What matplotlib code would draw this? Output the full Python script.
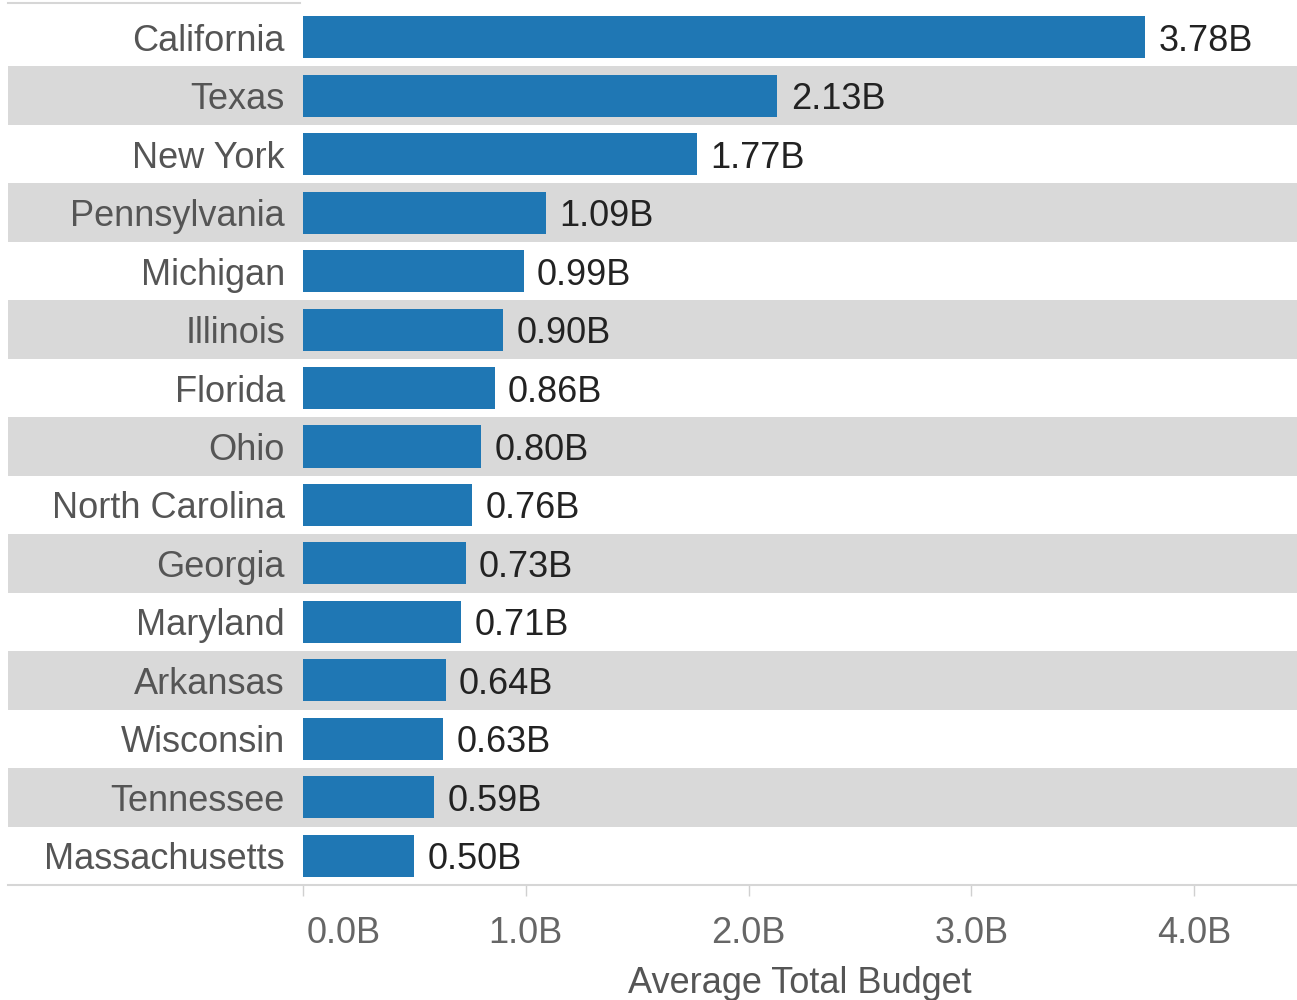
import matplotlib
matplotlib.use("Agg")
import matplotlib.pyplot as plt
from matplotlib.patches import Rectangle
from matplotlib.lines import Line2D
from matplotlib.transforms import ScaledTranslation

states = ["California", "Texas", "New York", "Pennsylvania", "Michigan", "Illinois",
          "Florida", "Ohio", "North Carolina", "Georgia", "Maryland", "Arkansas",
          "Wisconsin", "Tennessee", "Massachusetts"]
budget_b = [3.78, 2.13, 1.77, 1.09, 0.99, 0.90, 0.86, 0.80, 0.76, 0.73, 0.71,
            0.64, 0.63, 0.59, 0.50]
xticks = [0, 1, 2, 3, 4]
xtick_labels = ["0.0B", "1.0B", "2.0B", "3.0B", "4.0B"]
xlabel = "Average Total Budget"

plt.rcParams['font.family'] = ['Liberation Sans', 'DejaVu Sans']

W, H = 1297, 1000
fig = plt.figure(figsize=(W / 100, H / 100), dpi=100)
left = 303 / W
bottom = 1 - 885 / H
top = 1 - 8 / H
ax = fig.add_axes([left, bottom, 1 - left, top - bottom])

n = len(states)
ypos = list(range(n))

band_x0 = (8 - 303) / 994
for i in ypos:
    if i % 2 == 1:
        ax.add_patch(Rectangle((band_x0, i - 0.5), 1 - band_x0, 1.0,
                               transform=ax.get_yaxis_transform(),
                               facecolor='#d9d9d9', edgecolor='none',
                               clip_on=False, zorder=0))

ax.barh(ypos, budget_b, height=0.72, color='#1f77b4', zorder=2)
for i, v in zip(ypos, budget_b):
    ax.annotate(f"{v:.2f}B", xy=(v, i), xytext=(9.5, 0), textcoords='offset points',
                va='center_baseline', ha='left', fontsize=26, color='#222222', zorder=3)

ax.set_xlim(0, (W - 303) / 222.75)
ax.set_ylim(n - 0.5, -0.5)
ax.set_yticks(ypos)
ax.set_yticklabels(states, fontsize=26, color='#555555')
ax.tick_params(axis='y', length=0, pad=13)
ax.set_xticks(xticks)
ax.set_xticklabels(xtick_labels, fontsize=26, color='#666666')
ax.tick_params(axis='x', length=8, color='#d0d0d0', width=1, pad=14)
first = ax.get_xticklabels()[0]
first.set_ha('left')
first.set_transform(first.get_transform() + ScaledTranslation(4 / 100, 0, fig.dpi_scale_trans))
ax.set_xlabel(xlabel, fontsize=26, color='#555555', labelpad=11)
for s in ax.spines.values():
    s.set_visible(False)

fig.add_artist(Line2D([8 / W, 1], [bottom, bottom], color='#d6d6d6', lw=1.5,
                      transform=fig.transFigure))
fig.add_artist(Line2D([8 / W, 300 / W], [1 - 3 / H, 1 - 3 / H], color='#d6d6d6',
                      lw=1.5, transform=fig.transFigure))

fig.savefig("out.png", dpi=100)
